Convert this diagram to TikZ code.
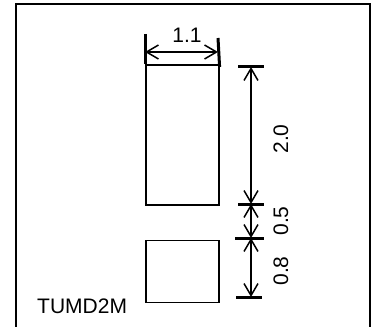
\documentclass[tikz,border=0pt]{standalone}
\usepackage{fontspec}
\setmainfont{Liberation Sans}
\usetikzlibrary{arrows.meta, positioning}

\tikzset{
  dimline/.style={{Straight Barb[length=12pt,width=14pt]}-{Straight Barb[length=12pt,width=14pt]}, line width=1.5pt},
  tickline/.style={line width=3pt},
  pad/.style={draw, line width=1.6pt, inner sep=0pt, minimum width=73pt},
  lbl/.style={font=\fontsize{21}{21}\selectfont, inner sep=0pt}
}

\begin{document}
\begin{tikzpicture}[x=1pt, y=-1pt]
	\useasboundingbox (0,0) rectangle (371,326);
	% frame
	\draw[line width=1.6pt] (16,330) -- (16,4) -- (370,4) -- (370,330);

	% pads
	\node[pad, minimum height=140pt, anchor=north west] (big) at (145,64) {};
	\node[pad, minimum height=62pt, below = 34pt of big] (small) {};
	\node[lbl, anchor=west] (name) at (37,306) {TUMD2M};

	% width 1.1
	\coordinate (wl) at (145,34);
	\coordinate (wr) at (218,38);
	\draw[tickline] (wl) -- (big.north west);
	\draw[tickline] (wr) -- ([yshift=-3pt]big.north east);
	\coordinate (al) at (145,52);
	\coordinate (ar) at (218,52);
	\draw[dimline] (al) -- (ar);
	\node[lbl] (w) at (187,35) {1.1};

	% heights
	\coordinate (h1) at (251,67);
	\coordinate (h2) at (251,204);
	\coordinate (h3) at (251,238);
	\coordinate (h4) at (251,297);
	\draw[tickline] (238,67) -- (264,67);
	\draw[tickline] (238,204) -- (264,204);
	\draw[tickline] (235,238) -- (264,238);
	\draw[tickline] (236,297) -- (262,297);
	\draw[dimline] (h1) -- (h2);
	\draw[dimline] (h2) -- (h3);
	\draw[dimline] (h3) -- (h4);
	\node[lbl, rotate=90] (d1) at (281,139) {2.0};
	\node[lbl, rotate=90] (d2) at (281,221) {0.5};
	\node[lbl, rotate=90] (d3) at (281,271) {0.8};
\end{tikzpicture}
\end{document}
